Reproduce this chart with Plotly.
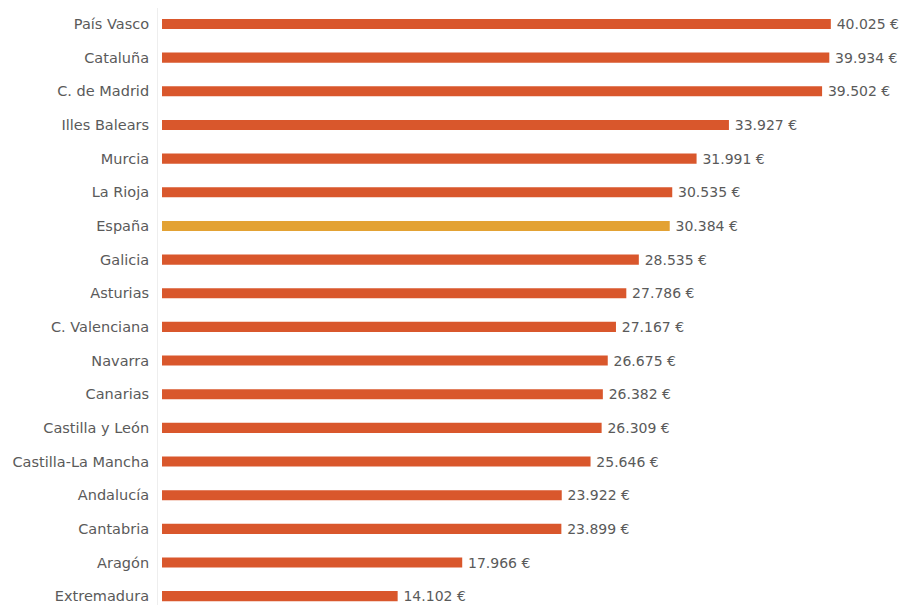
import plotly.graph_objects as go

regiones = ["País Vasco", "Cataluña", "C. de Madrid", "Illes Balears", "Murcia", "La Rioja",
            "España", "Galicia", "Asturias", "C. Valenciana", "Navarra", "Canarias",
            "Castilla y León", "Castilla-La Mancha", "Andalucía", "Cantabria", "Aragón", "Extremadura"]
valores = [40025, 39934, 39502, 33927, 31991, 30535, 30384, 28535, 27786, 27167, 26675,
           26382, 26309, 25646, 23922, 23899, 17966, 14102]

color_reg = "#D9572C"
color_esp = "#E3A234"
colores = [color_esp if r == "España" else color_reg for r in regiones]
etiquetas = ["\u2009" + f"{v:,}".replace(",", ".") + " €" for v in valores]

fig = go.Figure(go.Bar(
    x=valores, y=regiones, orientation="h",
    marker=dict(color=colores, line=dict(width=0)),
    width=0.3,
    text=etiquetas, textposition="outside", constraintext="none",
    textfont=dict(family="DejaVu Sans, sans-serif", size=14, color="#5a5a5a"),
    cliponaxis=False,
))

fig.update_layout(
    width=907, height=605,
    margin=dict(l=150, r=5, t=0, b=0, pad=0),
    paper_bgcolor="white", plot_bgcolor="white",
    showlegend=False,
    xaxis=dict(range=[-240, 44763], visible=False, showgrid=False, zeroline=False,
               automargin=False),
    yaxis=dict(
        categoryorder="array", categoryarray=regiones,
        range=[17.50, -0.475], automargin=False,
        showgrid=False, zeroline=False,
        showline=True, linecolor="#EEEEEE", linewidth=1,
        ticks="", ticklabelstandoff=5,
        tickfont=dict(family="DejaVu Sans, sans-serif", size=14.5, color="#5a5a5a"),
    ),
)

fig.write_html("out.html")
